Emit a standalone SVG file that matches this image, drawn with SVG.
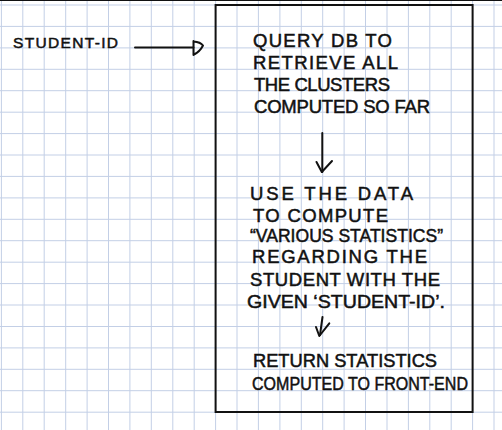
<svg xmlns="http://www.w3.org/2000/svg" width="502" height="430" viewBox="0 0 502 430">
  <style>
    .grid { stroke: #c3cfe6; stroke-width: 1; fill: none; }
    .t { font-family: "Liberation Sans", Arial, sans-serif; font-size: 18.5px; fill: #111; stroke: #111; stroke-width: 0.5; }
    .lbl { font-size: 15.5px; }
    .box { fill: none; stroke: #111; stroke-width: 2; }
    .conn { fill: none; stroke: #111; stroke-width: 2; stroke-linecap: round; stroke-linejoin: round; }
  </style>
  <rect x="0" y="0" width="502" height="430" fill="#ffffff"/>
  <g id="grid" class="grid">
    <path d="M1.4,0V430 M22.8,0V430 M44.2,0V430 M65.7,0V430 M87.1,0V430 M108.5,0V430 M129.9,0V430 M151.3,0V430 M172.8,0V430 M194.2,0V430 M215.6,0V430 M237,0V430 M258.4,0V430 M279.9,0V430 M301.3,0V430 M322.7,0V430 M344.1,0V430 M365.5,0V430 M387,0V430 M408.4,0V430 M429.8,0V430 M451.2,0V430 M472.6,0V430 M494,0V430"/>
    <path d="M0,5H502 M0,26.4H502 M0,47.9H502 M0,69.3H502 M0,90.7H502 M0,112.2H502 M0,133.6H502 M0,155H502 M0,176.4H502 M0,197.9H502 M0,219.3H502 M0,240.7H502 M0,262.2H502 M0,283.6H502 M0,305H502 M0,326.5H502 M0,347.9H502 M0,369.3H502 M0,390.7H502 M0,412.2H502"/>
  </g>
  <line x1="0" y1="0.5" x2="502" y2="0.5" stroke="#111" stroke-width="1.2"/>

  <g id="student-id">
    <text class="t lbl" x="13" y="48" textLength="105" lengthAdjust="spacing">STUDENT-ID</text>
  </g>

  <g id="process-box">
    <rect class="box" x="215.6" y="5" width="257" height="407"/>
  </g>

  <g id="step-query">
    <text class="t" x="253" y="47" textLength="139" lengthAdjust="spacing">QUERY DB TO</text>
    <text class="t" x="253" y="69" textLength="145" lengthAdjust="spacing">RETRIEVE ALL</text>
    <text class="t" x="254" y="91" textLength="136" lengthAdjust="spacing">THE CLUSTERS</text>
    <text class="t" x="254" y="113" textLength="176" lengthAdjust="spacing">COMPUTED SO FAR</text>
  </g>

  <g id="step-compute">
    <text class="t" x="250" y="200" textLength="163" lengthAdjust="spacing">USE THE DATA</text>
    <text class="t" x="253" y="222" textLength="135" lengthAdjust="spacing">TO COMPUTE</text>
    <text class="t" x="250" y="242" textLength="193" lengthAdjust="spacingAndGlyphs">“VARIOUS STATISTICS”</text>
    <text class="t" x="252" y="263" textLength="175" lengthAdjust="spacing">REGARDING THE</text>
    <text class="t" x="250" y="286" textLength="190" lengthAdjust="spacing">STUDENT WITH THE</text>
    <text class="t" x="247" y="308" textLength="198" lengthAdjust="spacingAndGlyphs">GIVEN ‘STUDENT-ID’.</text>
  </g>

  <g id="step-return">
    <text class="t" x="253" y="367" textLength="184" lengthAdjust="spacingAndGlyphs">RETURN STATISTICS</text>
    <text class="t" x="252" y="390" textLength="216" lengthAdjust="spacingAndGlyphs">COMPUTED TO FRONT-END</text>
  </g>

  <g id="connectors" class="conn">
    <path d="M135,47.5 H193.5"/>
    <path d="M193.5,41 V55 M193.5,41.5 Q200.5,42 203,45.5 Q200,51.5 194,54.5"/>
    <path d="M322.3,133 V172"/>
    <path d="M316.5,162 L321.8,172 L332,161"/>
    <path d="M322.5,317 L320,335"/>
    <path d="M316,327 L319.3,336 L329.3,323.3"/>
  </g>
</svg>
